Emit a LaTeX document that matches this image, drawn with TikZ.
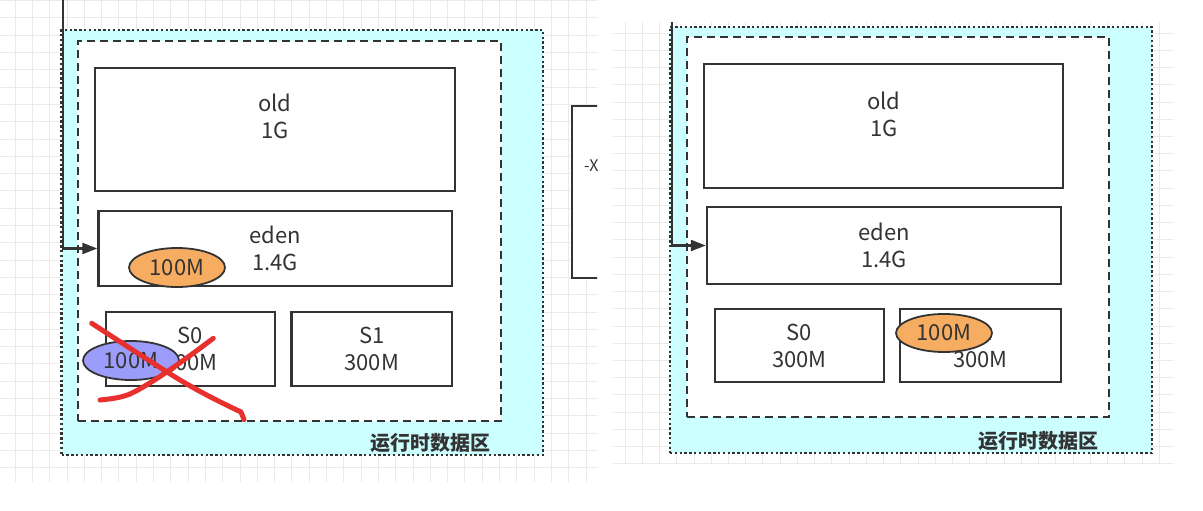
\documentclass[tikz,border=0pt]{standalone}
\usepackage{fontspec}
\setmainfont{Noto Sans CJK SC}
\usetikzlibrary{arrows.meta,calc,shapes.geometric}
\definecolor{ln}{HTML}{333333}
\definecolor{cyanbg}{HTML}{CCFFFF}
\definecolor{orng}{HTML}{F6AD62}
\definecolor{purp}{HTML}{9C9CFA}
\definecolor{redx}{HTML}{E8302F}
\definecolor{gridc}{HTML}{EAEAEA}
\begin{document}
\begin{tikzpicture}[x=1pt,y=-1pt,
  gridline/.style={draw=gridc,line width=0.8pt},
  outerbox/.style={draw=ln,fill=cyanbg,line width=2.8pt,dash pattern=on 2.4pt off 2.4pt,inner sep=0pt},
  innerbox/.style={draw=ln,fill=white,line width=2.2pt,dash pattern=on 8pt off 5pt,inner sep=0pt},
  box/.style={draw=ln,fill=white,line width=2.4pt,inner sep=0pt,font=\fontsize{22}{27}\selectfont,text=ln,align=center},
  txt/.style={font=\fontsize{22}{27}\selectfont,text=ln,align=center,inner sep=0pt},
  oval/.style={ellipse,draw=ln,line width=1.8pt,inner sep=0pt,font=\fontsize{22}{27}\selectfont,text=ln},
  area/.style={font=\fontsize{20}{24}\selectfont\bfseries,text=ln,inner sep=0pt},
  conn/.style={draw=ln,line width=2.2pt,-{Triangle[length=15pt,width=11pt]}},
  cross/.style={draw=redx,line width=5pt,line cap=round,line join=round}
]
\useasboundingbox (0,0) rectangle (1203,511);
\fill[white] (0,0) rectangle (1203,511);

% ---------- grids ----------
\foreach \i in {0,...,33} \draw[gridline] ({15+17.3*\i},0) -- ({15+17.3*\i},482);
\foreach \k in {0,...,27} \draw[gridline] (0,{0.5+17.3*\k}) -- (597,{0.5+17.3*\k});
\foreach \i in {0,...,31} \draw[gridline] ({625+17.23*\i},22) -- ({625+17.23*\i},463);
\foreach \k in {0,...,25} \draw[gridline] (613,{33+17.23*\k}) -- (1173,{33+17.23*\k});

% ---------- left panel ----------
\node[outerbox,minimum width=481.5pt,minimum height=425pt] (outL) at (302.25,242.5) {};
\node[innerbox,minimum width=423pt,minimum height=380pt] (inL) at (289.5,231) {};
\node[box,minimum width=360pt,minimum height=123pt] (oldL) at (275,129.5) {};
\node[txt] (oldLt) at (275,116) {old\\1G};
\node[box,minimum width=353.5pt,minimum height=75pt] (edenL) at (275.25,248.5) {eden\\1.4G};
\node[box,minimum width=169pt,minimum height=74pt] (s0L) at (190.5,349) {S0\\300M};
\node[box,minimum width=160.5pt,minimum height=74pt] (s1L) at (371.75,349) {S1\\300M};
\node[oval,fill=orng,minimum width=96pt,minimum height=39pt] (objL) at (177,267.5) {100M};
\node[oval,fill=purp,minimum width=96pt,minimum height=39pt] (oldobjL) at (131,360.5) {100M};
\node[area] (areaL) at (430,443) {运行时数据区};
\coordinate (srcL) at (63,0);
\draw[conn] (srcL) |- (edenL.west);
% red cross
\draw[cross] (91.7,323.3) .. controls (125,345) and (145,358) .. (166.7,371.7)
  .. controls (195,390) and (222,403) .. (241,412) -- (244,419.5);
\draw[cross] (100,400) .. controls (110,399) and (120,398) .. (130,394)
  .. controls (150,385) and (190,356) .. (213.3,338.3);

% ---------- middle partial box ----------
\begin{scope}
\clip (560,0) rectangle (597,511);
\node[box,minimum width=80pt,minimum height=172pt,anchor=north west] (midbox) at (571,105) {};
\node[font=\fontsize{16}{19}\selectfont,text=ln,inner sep=0pt,anchor=west] (midtxt) at (584,166) {-X};
\end{scope}

% ---------- right panel ----------
\node[outerbox,minimum width=482pt,minimum height=426pt] (outR) at (911,240) {};
\node[innerbox,minimum width=422pt,minimum height=380pt] (inR) at (898,227) {};
\node[box,minimum width=359pt,minimum height=124pt] (oldR) at (883.5,126) {};
\node[txt] (oldRt) at (884,114) {old\\1G};
\node[box,minimum width=354pt,minimum height=77pt] (edenR) at (884,245.5) {eden\\1.4G};
\node[box,minimum width=169pt,minimum height=73pt] (s0R) at (799.5,345.5) {S0\\300M};
\node[box,minimum width=161pt,minimum height=73pt] (s1R) at (980.5,345.5) {S1\\300M};
\node[oval,fill=orng,minimum width=96pt,minimum height=38pt] (objR) at (944,333) {100M};
\node[area] (areaR) at (1038,441) {运行时数据区};
\coordinate (srcR) at (672,22);
\draw[conn] (srcR) |- (edenR.west);
\end{tikzpicture}
\end{document}
